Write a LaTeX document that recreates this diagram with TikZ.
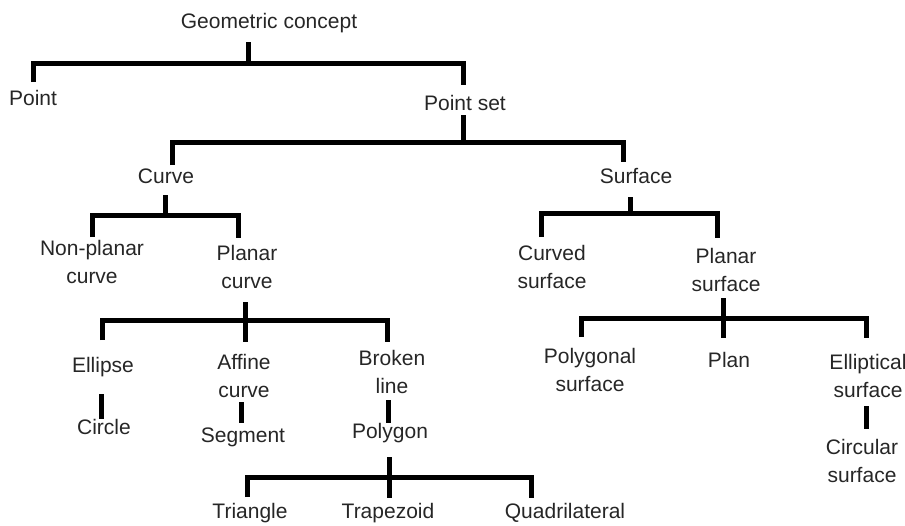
\documentclass[tikz,border=0pt]{standalone}
\usepackage{fontspec}
\setmainfont{Liberation Sans}
\newcommand\twol[2]{\begin{tabular}[t]{@{}c@{}}#1\\#2\end{tabular}}
\begin{document}
\begin{tikzpicture}[x=1pt,y=-1pt,
  lbl/.style={inner sep=0pt,anchor=base,font=\fontsize{21}{28}\selectfont,text=black!85},
  bar/.style={line width=5pt,line join=miter,line cap=butt,draw=black}]
\useasboundingbox (0,0) rectangle (905,525);
% nodes
\node[lbl] (gc) at (269,28) {Geometric concept};
\node[lbl] (pt) at (33,105) {Point};
\node[lbl] (ps) at (465,110) {Point set};
\node[lbl] (cv) at (166,183) {Curve};
\node[lbl] (sf) at (636,183) {Surface};
\node[lbl] (np) at (92,255) {\twol{Non-planar}{curve}};
\node[lbl] (pc) at (247,260) {\twol{Planar}{curve}};
\node[lbl] (cs) at (552,260) {\twol{Curved}{surface}};
\node[lbl] (psf) at (726,263) {\twol{Planar}{surface}};
\node[lbl] (el) at (103,372) {Ellipse};
\node[lbl] (af) at (244,369) {\twol{Affine}{curve}};
\node[lbl] (bl) at (392,365) {\twol{Broken}{line}};
\node[lbl] (pg) at (590,363) {\twol{Polygonal}{surface}};
\node[lbl] (pl) at (729,367) {Plan};
\node[lbl] (es) at (868,369) {\twol{Elliptical}{surface}};
\node[lbl] (ci) at (104,434) {Circle};
\node[lbl] (sg) at (243,442) {Segment};
\node[lbl] (py) at (390,438) {Polygon};
\node[lbl] (cr) at (862,454) {\twol{Circular}{surface}};
\node[lbl] (tr) at (250,518) {Triangle};
\node[lbl] (tz) at (388,518) {Trapezoid};
\node[lbl] (qd) at (565,518) {Quadrilateral};
% junctions
\coordinate (jgc) at (248,63);
\coordinate (jps) at (463,142);
\coordinate (jcv) at (165,215);
\coordinate (jsf) at (630,213);
\coordinate (jpc) at (245,320);
\coordinate (jpsf) at (723,318);
\coordinate (jpy) at (389,477);
% forks
\draw[bar] (jgc) -- ++(0,-21);
\draw[bar] (33,82) |- (jgc) -| (463,85);
\draw[bar] (jps) -- ++(0,-27);
\draw[bar] (172,165) |- (jps) -| (623,162);
\draw[bar] (jcv) -- ++(0,-20);
\draw[bar] (92,237) |- (jcv) -| (238,238);
\draw[bar] (jsf) -- ++(0,-16);
\draw[bar] (541,237) |- (jsf) -| (717,238);
\draw[bar] (245,302) -- (245,342);
\draw[bar] (102,340) |- (jpc) -| (387,342);
\draw[bar] (723,298) -- (723,338);
\draw[bar] (581,337) |- (jpsf) -| (866,338);
\draw[bar] (389,457) -- (389,498);
\draw[bar] (247,497) |- (jpy) -| (531,498);
% single links
\draw[bar] (101,394) -- (101,419);
\draw[bar] (241,402) -- (241,423);
\draw[bar] (388,400) -- (388,423);
\draw[bar] (866,406) -- (866,429);
\end{tikzpicture}
\end{document}
